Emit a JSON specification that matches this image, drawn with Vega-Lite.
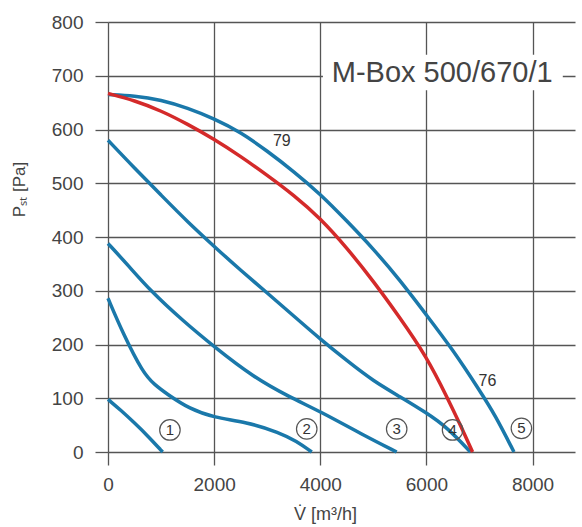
{
  "$schema": "https://vega.github.io/schema/vega-lite/v6.json",
  "width": 467,
  "height": 430,
  "autosize": "none",
  "padding": {"left": 108, "top": 22, "right": 7, "bottom": 75},
  "background": "white",
  "config": {
    "view": {"stroke": null},
    "font": "Liberation Sans"
  },
  "datasets": {
    "curves": [
      {"curve": "1", "V": 0, "p": 98}, {"curve": "1", "V": 250, "p": 77}, {"curve": "1", "V": 500, "p": 54}, {"curve": "1", "V": 750, "p": 30}, {"curve": "1", "V": 1030, "p": 0},
      {"curve": "2", "V": 0, "p": 286}, {"curve": "2", "V": 280, "p": 221}, {"curve": "2", "V": 660, "p": 147}, {"curve": "2", "V": 880, "p": 125}, {"curve": "2", "V": 1110, "p": 108}, {"curve": "2", "V": 1540, "p": 80}, {"curve": "2", "V": 2000, "p": 64}, {"curve": "2", "V": 2600, "p": 56}, {"curve": "2", "V": 3240, "p": 36}, {"curve": "2", "V": 3550, "p": 20}, {"curve": "2", "V": 3840, "p": 0},
      {"curve": "3", "V": 0, "p": 388}, {"curve": "3", "V": 400, "p": 345}, {"curve": "3", "V": 790, "p": 301}, {"curve": "3", "V": 1400, "p": 245}, {"curve": "3", "V": 2010, "p": 195}, {"curve": "3", "V": 2730, "p": 140}, {"curve": "3", "V": 3425, "p": 102}, {"curve": "3", "V": 3990, "p": 76}, {"curve": "3", "V": 4800, "p": 32}, {"curve": "3", "V": 5440, "p": 0},
      {"curve": "4", "V": 0, "p": 580}, {"curve": "4", "V": 500, "p": 528}, {"curve": "4", "V": 1000, "p": 478}, {"curve": "4", "V": 1500, "p": 428}, {"curve": "4", "V": 2050, "p": 378}, {"curve": "4", "V": 2500, "p": 338}, {"curve": "4", "V": 3000, "p": 296}, {"curve": "4", "V": 3500, "p": 253}, {"curve": "4", "V": 4000, "p": 210}, {"curve": "4", "V": 4500, "p": 170}, {"curve": "4", "V": 5000, "p": 132}, {"curve": "4", "V": 5500, "p": 103}, {"curve": "4", "V": 6000, "p": 73}, {"curve": "4", "V": 6400, "p": 45}, {"curve": "4", "V": 6830, "p": 0},
      {"curve": "5", "V": 0, "p": 665}, {"curve": "5", "V": 500, "p": 663}, {"curve": "5", "V": 1000, "p": 655}, {"curve": "5", "V": 1500, "p": 640}, {"curve": "5", "V": 2000, "p": 620}, {"curve": "5", "V": 2500, "p": 595}, {"curve": "5", "V": 3000, "p": 560}, {"curve": "5", "V": 3500, "p": 522}, {"curve": "5", "V": 4000, "p": 480}, {"curve": "5", "V": 4500, "p": 430}, {"curve": "5", "V": 5000, "p": 378}, {"curve": "5", "V": 5500, "p": 320}, {"curve": "5", "V": 6000, "p": 255}, {"curve": "5", "V": 6500, "p": 190}, {"curve": "5", "V": 7000, "p": 115}, {"curve": "5", "V": 7300, "p": 68}, {"curve": "5", "V": 7650, "p": 0}
    ],
    "rated": [
      {"V": 0, "p": 667}, {"V": 500, "p": 654}, {"V": 1000, "p": 635}, {"V": 1500, "p": 610}, {"V": 2000, "p": 582}, {"V": 2500, "p": 550}, {"V": 3000, "p": 515}, {"V": 3500, "p": 478}, {"V": 4000, "p": 435}, {"V": 4500, "p": 380}, {"V": 5000, "p": 318}, {"V": 5500, "p": 250}, {"V": 6000, "p": 178}, {"V": 6400, "p": 100}, {"V": 6650, "p": 48}, {"V": 6870, "p": 0}
    ],
    "soundLabels": [
      {"V": 3275, "p": 579, "t": "79"},
      {"V": 7150, "p": 132, "t": "76"}
    ],
    "speedSteps": [
      {"V": 1167, "p": 41, "t": "1"},
      {"V": 3745, "p": 43, "t": "2"},
      {"V": 5440, "p": 43, "t": "3"},
      {"V": 6493, "p": 41, "t": "4"},
      {"V": 7790, "p": 44, "t": "5"}
    ],
    "nameBox": [{"V": 4050, "V2": 8570, "p": 673, "p2": 739}],
    "name": [{"V": 4216, "p": 688, "t": "M-Box 500/670/1"}]
  },
  "encoding": {
    "x": {
      "field": "V",
      "type": "quantitative",
      "scale": {"domain": [0, 8800], "nice": false, "zero": false},
      "axis": {
        "values": [0, 2000, 4000, 6000, 8000],
        "format": "d",
        "grid": true,
        "gridColor": "#555555",
        "gridWidth": 1.3,
        "gridOpacity": 1,
        "domain": false,
        "ticks": true,
        "tickSize": 13,
        "tickColor": "#555555",
        "tickWidth": 1.3,
        "labelFontSize": 19,
        "labelColor": "#444444",
        "labelPadding": 10,
        "labelFlush": false,
        "labelOverlap": false,
        "title": "V̇ [m³/h]",
        "titleFontSize": 18,
        "titleFontWeight": "normal",
        "titleColor": "#444444",
        "titleX": 217,
        "titleY": 62,
        "titleBaseline": "middle",
        "titleAlign": "center"
      }
    },
    "y": {
      "field": "p",
      "type": "quantitative",
      "scale": {"domain": [0, 800], "nice": false},
      "axis": {
        "values": [0, 100, 200, 300, 400, 500, 600, 700, 800],
        "format": "d",
        "grid": true,
        "gridColor": "#555555",
        "gridWidth": 1.3,
        "gridOpacity": 1,
        "domain": false,
        "ticks": true,
        "tickSize": 13,
        "tickColor": "#555555",
        "tickWidth": 1.3,
        "labelFontSize": 19,
        "labelColor": "#444444",
        "labelPadding": 12,
        "labelFlush": false,
        "labelOverlap": false,
        "title": "Pₛₜ [Pa]",
        "titleFontSize": 17,
        "titleFontWeight": "normal",
        "titleColor": "#444444",
        "titleAngle": -90,
        "titleX": -89,
        "titleY": 167,
        "titleBaseline": "middle",
        "titleAlign": "center"
      }
    }
  },
  "layer": [
    {
      "data": {"name": "curves"},
      "mark": {"type": "line", "interpolate": "basis", "color": "#1a78aa", "strokeWidth": 3.5},
      "encoding": {"detail": {"field": "curve"}}
    },
    {
      "data": {"name": "rated"},
      "mark": {"type": "line", "interpolate": "basis", "color": "#d42a2a", "strokeWidth": 3.5},
      "encoding": {}
    },
    {
      "data": {"name": "soundLabels"},
      "mark": {"type": "text", "fontSize": 16, "color": "#333333", "align": "center", "baseline": "middle"},
      "encoding": {"text": {"field": "t"}}
    },
    {
      "data": {"name": "speedSteps"},
      "mark": {"type": "point", "shape": "circle", "size": 420, "filled": false, "stroke": "#555555", "strokeWidth": 1.2, "opacity": 1},
      "encoding": {}
    },
    {
      "data": {"name": "speedSteps"},
      "mark": {"type": "text", "fontSize": 15, "color": "#333333", "align": "center", "baseline": "middle"},
      "encoding": {"text": {"field": "t"}}
    },
    {
      "data": {"name": "nameBox"},
      "mark": {"type": "rect", "color": "white"},
      "encoding": {"x2": {"field": "V2"}, "y2": {"field": "p2"}}
    },
    {
      "data": {"name": "name"},
      "mark": {"type": "text", "fontSize": 29, "color": "#444444", "align": "left", "baseline": "alphabetic"},
      "encoding": {"text": {"field": "t"}}
    }
  ]
}
